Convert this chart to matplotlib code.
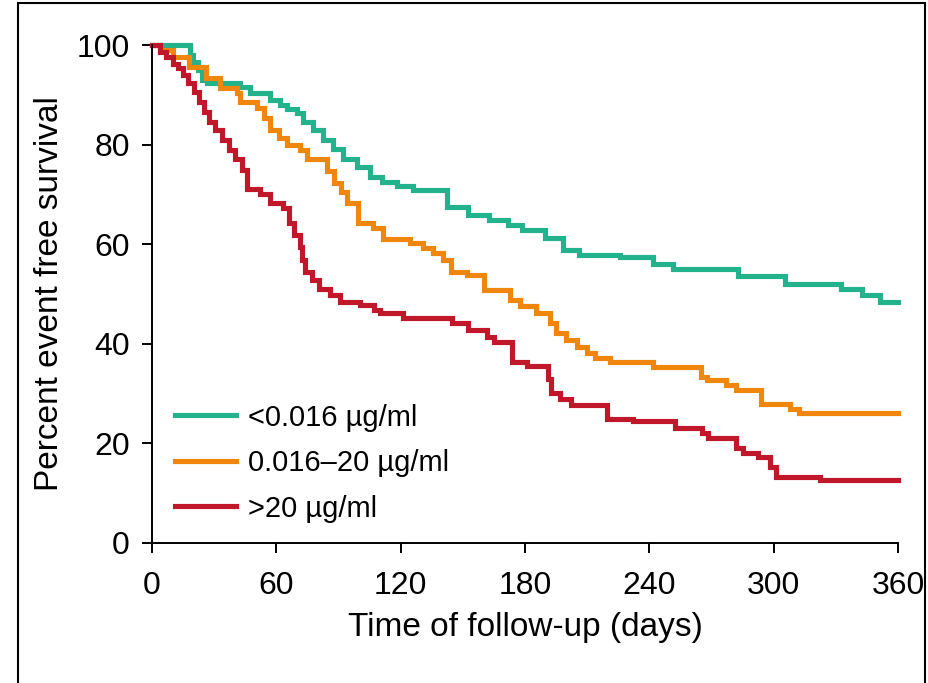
import matplotlib

matplotlib.use("Agg")
import matplotlib.pyplot as plt
from matplotlib.patches import Rectangle

plt.rcParams["font.family"] = ["Liberation Sans", "DejaVu Sans"]

# Kaplan-Meier step curves: day of each drop, survival after it
low_days = [0, 18.5, 20, 22, 24, 26.4, 42.5, 47.3, 57, 61.8, 65, 69.8, 73, 77.9,
            82.7, 87.5, 92.3, 98.8, 105.2, 111, 118, 126, 142.5, 152.5, 162.5,
            172, 178.5, 189.5, 198.5, 206, 226, 242, 251.5, 283, 305.5, 332.5,
            342.5, 351.3, 360]
low_surv = [100, 98, 96.6, 95, 93, 92.3, 91.6, 90.3, 89, 88, 87.2, 86.3, 84.6,
            82.9, 80.9, 79.2, 77.2, 75.6, 73.5, 72.6, 71.7, 70.9, 67.5, 65.9,
            64.9, 63.9, 62.9, 61.2, 58.8, 57.8, 57.5, 56, 55, 53.6, 52.1, 51.1,
            49.8, 48.5, 48.5]

mid_days = [0, 4, 10, 18, 26, 33, 41, 42.5, 50.5, 54, 57, 61.5, 65, 71.4, 74.6,
            84.3, 88, 91, 94, 99.5, 106.7, 111.6, 124.5, 131, 135.6, 140.4,
            144.5, 152, 160, 172.8, 177.6, 185.5, 192, 195, 200, 205, 210, 214,
            221, 242, 265, 268, 277, 282, 294, 308, 312, 360]
mid_surv = [100, 99, 97.7, 95.6, 93.4, 91.4, 90.3, 88.6, 87.3, 85.3, 82.9, 81.3,
            79.9, 79, 77.2, 74.8, 72.2, 70.5, 68.2, 64.2, 63.2, 61, 60.2, 59.2,
            58.2, 56.8, 54.5, 53.8, 50.8, 48.8, 47.5, 46.2, 44.1, 42.1, 40.8,
            39.4, 38.2, 37.2, 36.4, 35.4, 33.4, 32.7, 31.7, 30.7, 28, 27, 26.2,
            26.2]

high_days = [0, 4, 7, 10.3, 12.7, 15.1, 17.5, 20.1, 22.5, 24.9, 27.3, 30.5, 33.8,
             37, 40.2, 43.4, 45.8, 52, 57, 63.4, 66, 68.3, 71.5, 72.5, 74, 77,
             80.4, 86, 90.5, 100.4, 107, 110, 121, 144.6, 152.5, 161.5, 165,
             173.7, 181, 191, 192.5, 197, 202, 219.5, 232, 252.4, 265.3, 268.5,
             282, 285.4, 292.6, 298.3, 301, 322.4, 360]
high_surv = [100, 98.7, 97.7, 96.3, 95.3, 94, 92.3, 90.6, 88.6, 86.6, 84.6, 82.9,
             80.9, 79, 77.2, 74.9, 71, 70, 68.2, 67.2, 64.2, 61.8, 59.5, 56.8,
             54.5, 52.8, 51.1, 49.8, 48.5, 47.8, 46.8, 46.1, 45.1, 44.1, 42.8,
             41.4, 40.3, 36.3, 35.5, 33, 30.2, 28.9, 27.8, 25, 24.4, 23, 22, 21,
             19, 18, 17.3, 15.3, 13.3, 12.7, 12.7]

group_labels = ["<0.016 \u00b5g/ml", "0.016\u201320 \u00b5g/ml", ">20 \u00b5g/ml"]
group_colors = ["#22b38c", "#f0860c", "#c0182a"]

x_ticks = [0, 60, 120, 180, 240, 300, 360]
y_ticks = [0, 20, 40, 60, 80, 100]

fig = plt.figure(figsize=(9.29, 6.83), dpi=100)
ax = fig.add_axes([0.1636, 0.205, 0.803, 0.729])

curves = [(low_days, low_surv), (mid_days, mid_surv), (high_days, high_surv)]
for (days, surv), label, color in zip(curves, group_labels, group_colors):
    ax.step(days, surv, where="post", color=color, lw=3.7, label=label,
            clip_on=False, solid_joinstyle="miter")

ax.set_xlim(0, 360)
ax.set_ylim(0, 100)
ax.set_xticks(x_ticks)
ax.set_yticks(y_ticks)
ax.tick_params(labelsize=23, length=7, width=1.4, pad=9)
ax.tick_params(axis="x", pad=13)
for side in ["top", "right"]:
    ax.spines[side].set_visible(False)
for side in ["left", "bottom"]:
    ax.spines[side].set_linewidth(1.4)

ax.set_xlabel("Time of follow-up (days)", fontsize=24, labelpad=8)
ax.set_ylabel("Percent event free survival", fontsize=24, labelpad=8)

ax.legend(loc="upper left", bbox_to_anchor=(0.031, 0.28), frameon=False,
          fontsize=21, handlelength=2.1, handletextpad=0.4, labelspacing=0.6,
          borderpad=0, borderaxespad=0)

fig.patches.append(Rectangle((0.019, -0.05), 0.977, 1.045, transform=fig.transFigure,
                             fill=False, edgecolor="black", lw=1.5))

fig.savefig("out.png", dpi=100)
plt.close(fig)
